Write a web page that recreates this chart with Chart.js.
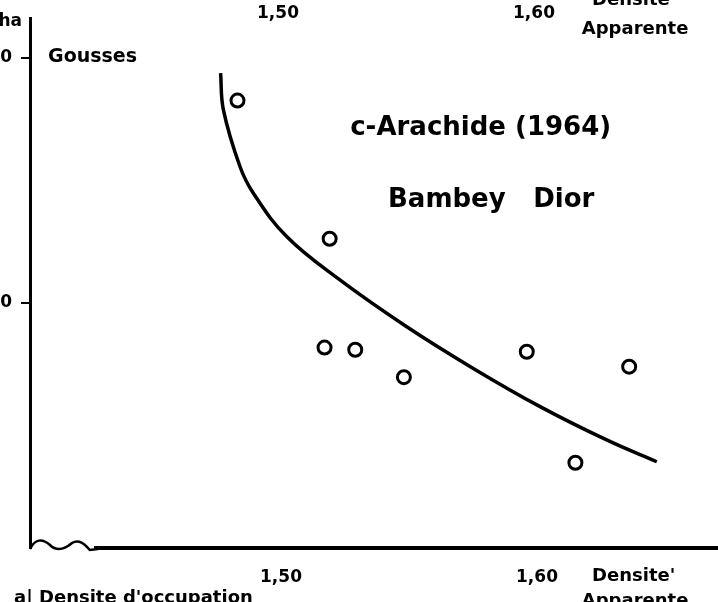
<!DOCTYPE html>
<html>
<head>
<meta charset="utf-8">
<script src="https://cdn.jsdelivr.net/npm/chart.js@4/dist/chart.umd.min.js"></script>
<style>
    body { margin: 0; background: #fff; overflow: hidden; }
    #wrap { position: absolute; left: -12px; top: 0; width: 730px; height: 602px; }
</style>
</head>
<body>
<div id="wrap"><canvas id="densChart" width="730" height="602"></canvas></div>
<script>
// Densité apparente / rendement en gousses
const pointDensity = [1.483, 1.519, 1.517, 1.529, 1.548, 1.596, 1.636, 1.615];
const pointYield   = [28.26, 22.62, 18.18, 18.09, 16.97, 18.01, 17.40, 13.48];

// Courbe d'ajustement tracée à la main
const curveDensity = [1.4764, 1.4775, 1.4840, 1.4892, 1.5022, 1.5230, 1.5491, 1.5751, 1.6012, 1.6272, 1.6468];
const curveYield   = [29.38, 27.88, 25.56, 24.48, 22.71, 20.94, 19.03, 17.33, 15.77, 14.41, 13.52];

const xTickValues = [1.50, 1.60];
const xTickLabels = ['1,50', '1,60'];
const yTickValues = [20, 30];
const yTickLabels = ['20', '30'];

const BOLD = 'bold 17px "DejaVu Sans"';

// Textes de la figure
function drawTexts(chart) {
    const ctx = chart.ctx;
    const x = chart.scales.x;
    const y = chart.scales.y;
    const area = chart.chartArea;
    ctx.save();
    ctx.fillStyle = '#000';

    // annotations dans le graphique
    ctx.font = 'bold 26px "DejaVu Sans"';
    ctx.textAlign = 'center';
    ctx.textBaseline = 'middle';
    ctx.fillText('c-Arachide (1964)', x.getPixelForValue(1.578), y.getPixelForValue(27.14));
    ctx.textAlign = 'left';
    ctx.fillText('Bambey', x.getPixelForValue(1.5418), y.getPixelForValue(24.2));
    ctx.fillText('Dior', x.getPixelForValue(1.5985), y.getPixelForValue(24.2));

    ctx.font = 'bold 19px "DejaVu Sans"';
    ctx.fillText('Gousses', x.getPixelForValue(1.409), y.getPixelForValue(30.04));

    // unité de l'axe y (coupée par le bord)
    ctx.font = BOLD;
    ctx.textAlign = 'right';
    ctx.fillText('q/ha', area.left - 8, 22);

    // axe du graphique du dessus
    ctx.textAlign = 'center';
    xTickValues.forEach((v, i) => {
        ctx.fillText(xTickLabels[i], x.getPixelForValue(v) - 3, 14);
    });
    ctx.font = 'bold 18px "DejaVu Sans"';
    ctx.textAlign = 'left';
    ctx.fillText('Densite', x.getPixelForValue(1.6215), 0);
    ctx.fillText('Apparente', x.getPixelForValue(1.6175), 29);

    // titre d'axe en bas
    ctx.fillText("Densite'", x.getPixelForValue(1.6215), 576);
    ctx.textBaseline = 'top';
    ctx.fillText('Apparente', x.getPixelForValue(1.6175), 592);
    ctx.fillText("a| Densite d'occupation", area.left - 16, 589);
    ctx.restore();
}

// axe x avec la coupure ondulée
function drawBrokenAxis(chart) {
    const ctx = chart.ctx;
    const area = chart.chartArea;
    const b = area.bottom;
    const l = area.left;
    ctx.save();
    ctx.strokeStyle = '#000';
    ctx.lineWidth = 2.5;
    ctx.beginPath();
    ctx.moveTo(l, b + 1);
    ctx.bezierCurveTo(l + 5, b - 9, l + 12, b - 10, l + 20, b - 3);
    ctx.bezierCurveTo(l + 26, b + 3, l + 34, b + 2, l + 42, b - 5);
    ctx.bezierCurveTo(l + 50, b - 10, l + 56, b - 2, l + 60, b + 2);
    ctx.lineTo(l + 68, b + 1);
    ctx.stroke();
    ctx.lineWidth = 4;
    ctx.beginPath();
    ctx.moveTo(l + 64, b);
    ctx.lineTo(chart.width, b);
    ctx.stroke();
    ctx.restore();
}

const figurePlugin = {
    id: 'figure',
    afterDraw(chart) {
        drawBrokenAxis(chart);
        drawTexts(chart);
    }
};

const ctx = document.getElementById('densChart').getContext('2d');

new Chart(ctx, {
    type: 'scatter',
    data: {
        datasets: [
            {
                data: curveDensity.map((d, i) => ({ x: d, y: curveYield[i] })),
                showLine: true,
                borderColor: '#000',
                borderWidth: 3.5,
                pointRadius: 0,
                tension: 0.4,
                fill: false
            },
            {
                data: pointDensity.map((d, i) => ({ x: d, y: pointYield[i] })),
                pointStyle: 'circle',
                pointRadius: 6.5,
                pointBorderWidth: 3,
                pointBackgroundColor: '#fff',
                pointBorderColor: '#000'
            }
        ]
    },
    options: {
        responsive: false,
        animation: false,
        layout: { autoPadding: false, padding: { top: 18, right: 0, left: 0, bottom: 0 } },
        plugins: {
            legend: { display: false },
            tooltip: { enabled: false }
        },
        scales: {
            x: {
                type: 'linear',
                min: 1.40195,
                max: 1.6707,
                afterBuildTicks: s => { s.ticks = xTickValues.map(v => ({ value: v })); },
                afterFit: s => { s.height = 54; s.paddingLeft = 0; s.paddingRight = 0; },
                grid: { display: false, drawTicks: false },
                border: { display: false },
                ticks: {
                    padding: 19,
                    color: '#000',
                    font: { family: 'DejaVu Sans', weight: 'bold', size: 17 },
                    callback: v => xTickLabels[xTickValues.indexOf(v)]
                }
            },
            y: {
                type: 'linear',
                min: 10,
                max: 31.63,
                afterBuildTicks: s => { s.ticks = yTickValues.map(v => ({ value: v })); },
                afterFit: s => { s.width = 42; s.paddingTop = 0; s.paddingBottom = 0; },
                grid: {
                    drawOnChartArea: false,
                    drawTicks: true,
                    tickLength: 9,
                    color: '#000',
                    lineWidth: 2
                },
                border: { display: true, color: '#000', width: 3 },
                ticks: {
                    padding: 9,
                    color: '#000',
                    font: { family: 'DejaVu Sans', weight: 'bold', size: 17 },
                    callback: v => yTickLabels[yTickValues.indexOf(v)]
                }
            }
        }
    },
    plugins: [figurePlugin]
});
</script>
</body>
</html>
